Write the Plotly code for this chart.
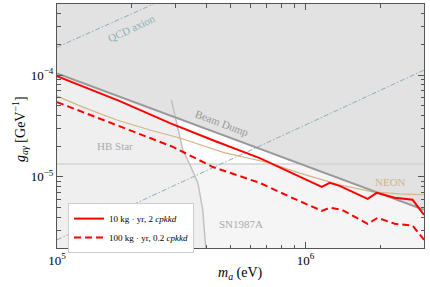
import plotly.graph_objects as go
import numpy as np

# ---------------- data ----------------
# projected sensitivity, 10 kg-yr, 2 cpkkd
m_solid = [1.0e5, 1.79e5, 2.85e5, 4.32e5, 6.55e5, 8.65e5, 1.163e6, 1.252e6, 1.373e6,
           1.78e6, 1.935e6, 2.286e6, 2.70e6, 3.0e6]
g_solid = [9.77e-5, 5.56e-5, 3.38e-5, 2.25e-5, 1.53e-5, 1.12e-5, 7.97e-6, 8.73e-6, 8.16e-6,
           6.08e-6, 6.97e-6, 6.23e-6, 5.95e-6, 4.24e-6]
# projected sensitivity, 100 kg-yr, 0.2 cpkkd
m_dash = [1.0e5, 1.79e5, 2.93e5, 4.24e5, 6.55e5, 8.65e5, 1.163e6, 1.252e6, 1.40e6,
          1.78e6, 1.953e6, 2.286e6, 2.70e6, 3.0e6]
g_dash = [5.43e-5, 3.16e-5, 1.97e-5, 1.25e-5, 8.73e-6, 6.37e-6, 4.64e-6, 4.97e-6, 4.75e-6,
          3.46e-6, 3.96e-6, 3.46e-6, 3.31e-6, 2.41e-6]
# NEON
m_neon = [1.0e5, 1.272e5, 1.743e5, 2.366e5, 3.12e5, 4.74e5, 7.19e5, 9.49e5, 1.373e6,
          1.865e6, 2.39e6, 3.0e6]
g_neon = [6.22e-5, 4.85e-5, 3.62e-5, 2.89e-5, 2.41e-5, 1.72e-5, 1.37e-5, 1.09e-5, 8.35e-6,
          7.13e-6, 6.81e-6, 6.67e-6]
# Beam dump boundary
m_bd = [1.0e5, 3.0e6]
g_bd = [1.04e-4, 4.75e-6]
# HB star boundary
m_hb = [2.887e5, 2.98e5, 3.21e5, 3.46e5, 3.69e5, 3.86e5, 3.97e5]
g_hb = [5.69e-5, 4.06e-5, 1.84e-5, 1.25e-5, 8.73e-6, 4.75e-6, 2.0e-6]
# SN1987A upper boundary
g_sn = 1.34e-5
# QCD axion band edges
m_qcd_lo = [1.0e5, 3.0e6]
g_qcd_lo = [2.41e-6, 1.12e-4]
m_qcd_hi = [1.0e5, 2.45e5]
g_qcd_hi = [1.88e-4, 5.0e-4]

x_range = [1.0e5, 3.0e6]
y_range = [2.0e-6, 5.0e-4]

x_major = [1e5, 1e6]
x_major_text = ["10<sup>5</sup>", "10<sup>6</sup>"]
x_minor = [2e5, 3e5, 4e5, 5e5, 6e5, 7e5, 8e5, 9e5, 2e6, 3e6]
y_major = [1e-5, 1e-4]
y_major_text = ["10<sup>\u22125</sup>", "10<sup>\u22124</sup>"]
y_minor = [2e-6, 3e-6, 4e-6, 5e-6, 6e-6, 7e-6, 8e-6, 9e-6,
           2e-5, 3e-5, 4e-5, 5e-5, 6e-5, 7e-5, 8e-5, 9e-5,
           2e-4, 3e-4, 4e-4, 5e-4]

label_solid = "10 kg \u00b7 yr, 2 <i>cpkkd</i>"
label_dash = "100 kg \u00b7 yr, 0.2 <i>cpkkd</i>"

FONT = "Liberation Serif"

fig = go.Figure()

def fill(xs, ys, color):
    fig.add_trace(go.Scatter(x=xs, y=ys, mode="lines", fill="toself", fillcolor=color,
                             line=dict(width=0), hoverinfo="skip", showlegend=False))

x0, x1 = x_range
y0, y1 = y_range
# SN1987A region (below horizontal line)
fill([x0, x1, x1, x0, x0], [y0, y0, g_sn, g_sn, y0], "#f5f5f5")
# HB star region (left of the curve)
fill([x0, x0, m_hb[0]] + m_hb + [x0], [y0, y1, y1] + g_hb + [y0], "#efefef")
# Beam dump region (above line)
fill([m_bd[0], m_bd[1], x1, x0, m_bd[0]], [g_bd[0], g_bd[1], y1, y1, g_bd[0]], "#e2e2e2")

def line(xs, ys, color, width, dash="solid", name=None, legend=False):
    fig.add_trace(go.Scatter(x=xs, y=ys, mode="lines", name=name,
                             line=dict(color=color, width=width, dash=dash),
                             hoverinfo="skip", showlegend=legend))

line([x0, x1], [g_sn, g_sn], "#d4d4d4", 1.5)
line(m_hb, g_hb, "#c2c2c2", 1.5)
line(m_qcd_lo, g_qcd_lo, "#8badb8", 1, dash="5px,2px,1.5px,2px")
line(m_qcd_hi, g_qcd_hi, "#8badb8", 1, dash="5px,2px,1.5px,2px")
line(m_neon, g_neon, "#d2b48c", 1.2)
line(m_bd, g_bd, "#999999", 2)
line(m_solid, g_solid, "#ff0000", 2, name=label_solid, legend=True)
line(m_dash, g_dash, "#ff0000", 2, dash="7px,4px", name=label_dash, legend=True)

def lab(text, lx, ly, color, angle=0, size=11):
    fig.add_annotation(x=lx, y=ly, xref="x", yref="y", text=text, showarrow=False,
                       textangle=angle, font=dict(family=FONT, size=size, color=color))

lab("Beam Dump", 5.6635, -4.471, "#999999", angle=20.4)
lab("QCD axion", 5.3016, -3.539, "#8fb0bb", angle=-25)
lab("HB Star", 5.233, -4.696, "#aaaaaa")
lab("SN1987A", 5.740, -5.461, "#aaaaaa")
lab("NEON", 6.343, -5.049, "#d2b48c")

axis_common = dict(type="log", showgrid=False, zeroline=False, showline=True,
                   automargin=False,
                   linecolor="#555555", linewidth=1, mirror="allticks",
                   ticks="inside", ticklen=6, tickwidth=1, tickcolor="#555555",
                   tickmode="array", tickfont=dict(family=FONT, size=13, color="black"))

fig.update_xaxes(**axis_common, range=[np.log10(x0), np.log10(x1)],
                 tickvals=x_major, ticktext=x_major_text,
                 minor=dict(tickmode="array", tickvals=x_minor, ticks="inside",
                            ticklen=3.5, tickwidth=1, tickcolor="#555555"))
fig.update_yaxes(**axis_common, range=[np.log10(y0), np.log10(y1)],
                 tickvals=y_major, ticktext=y_major_text,
                 minor=dict(tickmode="array", tickvals=y_minor, ticks="inside",
                            ticklen=3.5, tickwidth=1, tickcolor="#555555"))

fig.add_annotation(xref="paper", yref="paper", x=0.5, y=-0.1025, yanchor="middle",
                   text="<i>m</i><sub><i>a</i></sub> (eV)", showarrow=False,
                   font=dict(family=FONT, size=14, color="black"))
fig.add_annotation(xref="paper", yref="paper", x=-0.1008, y=0.484, xanchor="center",
                   text="<i>g</i><sub><i>a\u03b3</i></sub> [GeV<sup>\u22121</sup>]",
                   showarrow=False, textangle=-90,
                   font=dict(family=FONT, size=14, color="black"))

fig.update_layout(width=430, height=287, margin=dict(l=57, r=6, t=4, b=39),
                  paper_bgcolor="white", plot_bgcolor="white",
                  legend=dict(x=0.03, y=0.184, xanchor="left", yanchor="top",
                              bgcolor="white", bordercolor="#cccccc", borderwidth=1,
                              itemwidth=30, tracegroupgap=0,
                              font=dict(family=FONT, size=9, color="black")))

fig.write_html("out.html", config={"displayModeBar": False, "staticPlot": True},
               post_script="document.body.style.margin='0';document.body.style.overflow='hidden';")
